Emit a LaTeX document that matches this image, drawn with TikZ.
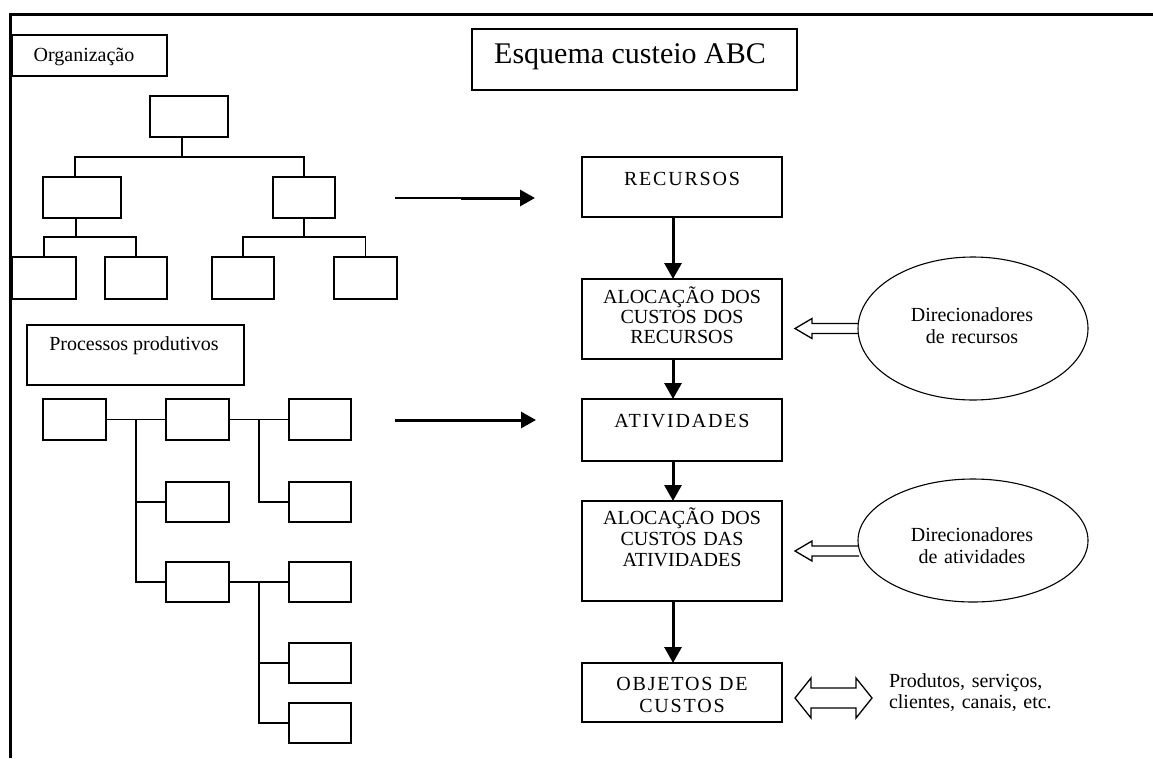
\documentclass[tikz,border=0pt]{standalone}
\usepackage{fontspec}
\setmainfont{Liberation Serif}
\newfontfamily\spacedserif{Liberation Serif}[LetterSpace=9]
\usetikzlibrary{arrows.meta,calc,shapes.geometric}

\begin{document}
\begin{tikzpicture}[x=1pt,y=-1pt,
  every node/.style={inner sep=0pt,outer sep=0pt},
  rbox/.style n args={2}{draw,line width=1.8pt,minimum width=#1,minimum height=#2},
  orgline/.style={line width=1.8pt},
  lbl/.style={anchor=base,font=\fontsize{20}{20}\selectfont},
  caplbl/.style={anchor=base,text width=220pt,align=center,font=\spacedserif\fontsize{20}{#1}\selectfont},
  mlbl/.style={anchor=base,text width=220pt,align=center,font=\fontsize{20}{#1}\selectfont},
  flowarrow/.style={line width=3pt,-{Triangle[length=16pt,width=17pt]}},
  sidearrow/.style={line width=3pt,-{Triangle[length=15pt,width=16pt]}},
  hollow/.style={draw,line width=1.3pt,line join=miter},
  driver/.style={ellipse,draw,line width=1.1pt,minimum width=230pt,minimum height=#1}
]
% page and frame
\useasboundingbox (0,0) rectangle (1153,758);
\fill[white] (0,0) rectangle (1153,758);
\draw[line width=2.7pt] (10.7,758) -- (10.7,14.5) -- (1153,14.5);

% ---------- organisation chart ----------
\node[rbox={155pt}{41pt}] (orgtitle) at (89.5,55.5) {};
\node[lbl] (orgtxt) at (84,61) {Organização};

\node[rbox={78pt}{41pt}] (t)  at (189,116.5) {};
\node[rbox={78pt}{41pt}] (m1) at (82,197.5) {};
\node[rbox={62pt}{41pt}] (m2) at (304,197.5) {};
\node[rbox={64pt}{42pt}] (c1) at (44,278) {};
\node[rbox={62pt}{42pt}] (c2) at (136,278) {};
\node[rbox={62pt}{42pt}] (c3) at (243,278) {};
\node[rbox={63pt}{42pt}] (c4) at (365.5,278) {};

\draw[orgline] ([xshift=-7pt]t.south) -- ++(0,20) coordinate (tj);
\draw[orgline] ([xshift=-7pt]m1.north) |- (tj) -| (m2.north);
\draw[orgline] ([xshift=-6pt]m1.south) -- ++(0,19) coordinate (mj1);
\draw[orgline] (c1.north) |- (mj1) -| (c2.north);
\draw[orgline] (m2.south) -- ++(0,19) coordinate (mj2);
\draw[orgline] (c3.north) |- (mj2) -| (c4.north);

% ---------- production processes ----------
\node[rbox={217pt}{60pt}] (ptitle) at (135.5,355) {};
\node[lbl] (ptxt) at (134,350) {Processos produtivos};

\node[rbox={63pt}{41pt}] (pa) at (74.5,419.5) {};
\node[rbox={63pt}{41pt}] (pb) at (197.5,419.5) {};
\node[rbox={62pt}{41pt}] (pc) at (320,419.5) {};
\node[rbox={63pt}{40pt}] (pd) at (197.5,502) {};
\node[rbox={63pt}{40pt}] (pe) at (197.5,582) {};
\node[rbox={62pt}{40pt}] (pf) at (320,502) {};
\node[rbox={62pt}{40pt}] (pg) at (320,582) {};
\node[rbox={62pt}{40pt}] (ph) at (320,663) {};
\node[rbox={62pt}{40pt}] (pi) at (320,723) {};

\draw[orgline] (pa.east) -- (pb.west);
\draw[orgline] ($(pa.east)!0.5!(pb.west)$) |- (pd.west);
\draw[orgline] ($(pa.east)!0.5!(pb.west)$) |- (pe.west);
\draw[orgline] (pb.east) -- (pc.west);
\draw[orgline] ($(pb.east)!0.5!(pc.west)$) |- (pf.west);
\draw[orgline] (pe.east) -- (pg.west);
\draw[orgline] ($(pe.east)!0.5!(pg.west)$) |- (ph.west);
\draw[orgline] ($(pe.east)!0.5!(pg.west)$) |- (pi.west);

% ---------- title ----------
\node[rbox={325pt}{61pt}] (title) at (634.5,59.5) {};
\node[anchor=base,font=\fontsize{30}{32}\selectfont] (titletxt) at (630,63) {Esquema custeio ABC};

% ---------- ABC flow ----------
\node[rbox={200pt}{60pt}]  (rec)   at (682,187) {};
\node[rbox={200pt}{80pt}]  (aloc1) at (682,319) {};
\node[rbox={200pt}{62pt}]  (ativ)  at (682,430) {};
\node[rbox={200pt}{100pt}] (aloc2) at (682,551) {};
\node[rbox={200pt}{59pt}]  (obj)   at (682,692.5) {};

\node[caplbl=20pt] (rectxt) at (682,185) {RECURSOS};
\node[mlbl=20pt] (aloc1txt) at (682,303) {ALOCAÇÃO DOS\\CUSTOS DOS\\RECURSOS};
\node[caplbl=20pt] (ativtxt) at (682,427) {ATIVIDADES};
\node[mlbl=21pt] (aloc2txt) at (682,524) {ALOCAÇÃO DOS\\CUSTOS DAS\\ATIVIDADES};
\node[caplbl=22pt] (objtxt) at (682,690) {OBJETOS DE\\CUSTOS};

\draw[flowarrow] ([xshift=-9pt]rec.south)   -- ([xshift=-9pt]aloc1.north);
\draw[flowarrow] ([xshift=-9pt]aloc1.south) -- ([xshift=-9pt]ativ.north);
\draw[flowarrow] ([xshift=-9pt]ativ.south)  -- ([xshift=-9pt]aloc2.north);
\draw[flowarrow] ([xshift=-9pt]aloc2.south) -- ([xshift=-9pt]obj.north);

% links from the charts to the flow
\coordinate (oa) at (395,198);
\coordinate (ob) at (461,198);
\coordinate (oc) at (535,198);
\draw[line width=1.2pt] (oa) -- (ob);
\draw[sidearrow] (ob) -- (oc);
\coordinate (pa1) at (395,420);
\coordinate (pa2) at (536,420);
\draw[sidearrow] (pa1) -- (pa2);

% ---------- cost drivers ----------
\node[driver=143pt] (ell1) at (973,328.5) {};
\node[driver=123pt] (ell2) at (973,540.5) {};
\node[mlbl=22pt] (ell1txt) at (972,321) {Direcionadores\\de recursos};
\node[mlbl=22pt] (ell2txt) at (972,541) {Direcionadores\\de atividades};

\draw[hollow] ($(ell1.west)+(0,-5)$) -- ++(-46,0) -- ++(0,-5) -- ++(-17,10)
  -- ++(17,10) -- ++(0,-5) -- ++(46,0);
\draw[hollow] ($(ell2.west |- aloc2.east)+(1,-5)$) -- ++(-47,0) -- ++(0,-5) -- ++(-17,10)
  -- ++(17,10) -- ++(0,-5) -- ++(47,0);

% ---------- cost objects ----------
\node[anchor=base west,text width=200pt,align=left,font=\fontsize{20}{21}\selectfont]
  (objlist) at (889,687) {Produtos, serviços,\\clientes, canais, etc.};
\draw[hollow] ($(obj.east)+(13,5.5)$) -- ++(16,-20) -- ++(0,10) -- ++(45,0) -- ++(0,-10)
  -- ++(16,20) -- ++(-16,20) -- ++(0,-10) -- ++(-45,0) -- ++(0,10) -- cycle;
\end{tikzpicture}
\end{document}
